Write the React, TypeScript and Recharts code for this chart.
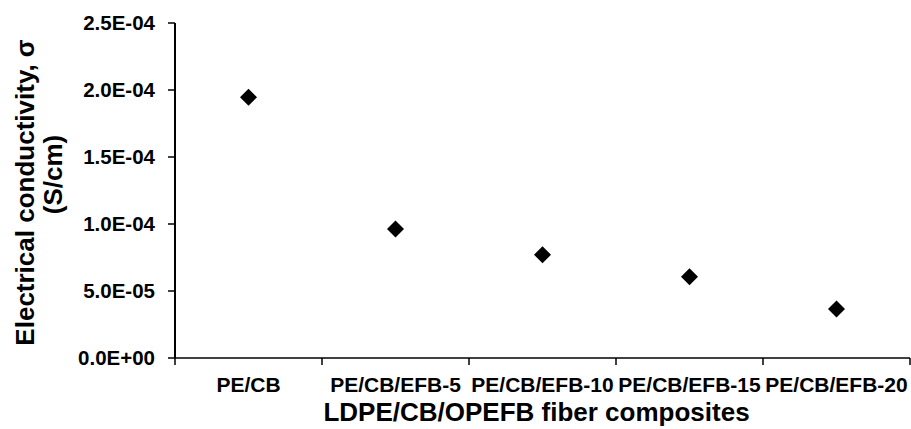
import { Scatter, ScatterChart, XAxis, YAxis } from "recharts";

const categories = ["PE/CB", "PE/CB/EFB-5", "PE/CB/EFB-10", "PE/CB/EFB-15", "PE/CB/EFB-20"];
const conductivity = [1.945e-4, 9.63e-5, 7.71e-5, 6.07e-5, 3.66e-5];
const yTicks = [0, 5e-5, 1e-4, 1.5e-4, 2e-4, 2.5e-4];
const boundaryTicks = [0, 1, 2, 3, 4, 5];
const labelTicks = [0.5, 1.5, 2.5, 3.5, 4.5];

const data = categories.map((name, i) => ({ pos: i + 0.5, name, value: conductivity[i] }));

const FONT = "'Liberation Sans', Arial, sans-serif";

function sci(v: number) {
  const [m, e] = v.toExponential(1).split("e");
  const n = Number(e);
  const sign = n < 0 ? "-" : "+";
  return `${m}E${sign}${String(Math.abs(n)).padStart(2, "0")}`;
}

function Diamond(props: any) {
  const { cx, cy } = props;
  const r = 8.5;
  return (
    <polygon
      points={`${cx},${cy - r} ${cx + r},${cy} ${cx},${cy + r} ${cx - r},${cy}`}
      fill="#000"
    />
  );
}

// the label axis needs a series of its own, but draws nothing
function Nothing() {
  return <g />;
}

function YTitle(props: any) {
  const vb = props.viewBox;
  const cy = vb.y + vb.height / 2;
  const x1 = 25;
  const x2 = 53;
  return (
    <g fontFamily={FONT} fontWeight="bold" fontSize={26} fill="#000">
      <text x={x1} y={cy + 2} transform={`rotate(-90, ${x1}, ${cy + 2})`} textAnchor="middle" dominantBaseline="central">
        Electrical conductivity, σ
      </text>
      <text x={x2} y={cy - 16} transform={`rotate(-90, ${x2}, ${cy - 16})`} textAnchor="middle" dominantBaseline="central">
        (S/cm)
      </text>
    </g>
  );
}

function XTitle(props: any) {
  const vb = props.viewBox;
  return (
    <text
      x={vb.x + vb.width / 2 - 6}
      y={vb.y + vb.height - 8}
      textAnchor="middle"
      fontFamily={FONT}
      fontWeight="bold"
      fontSize={26}
      fill="#000"
    >
      LDPE/CB/OPEFB fiber composites
    </text>
  );
}

export default function App() {
  const yTickStyle = { fontFamily: FONT, fontWeight: "bold", fontSize: 20.5, fill: "#000" };
  const xTickStyle = { fontFamily: FONT, fontWeight: "bold", fontSize: 21, fill: "#000" };
  return (
    <div style={{ position: "absolute", left: 0, top: 0, background: "#fff" }}>
      <ScatterChart width={911} height={429} margin={{ top: 23, right: 1, bottom: 0, left: 0 }}>
        <XAxis
          xAxisId="grid"
          type="number"
          dataKey="pos"
          domain={[0, 5]}
          ticks={boundaryTicks}
          tickFormatter={() => ""}
          tickSize={7}
          height={10}
          interval={0}
          axisLine={{ stroke: "#000", strokeWidth: 1.5 }}
          tickLine={{ stroke: "#000", strokeWidth: 1.5 }}
        />
        <XAxis
          xAxisId="labels"
          type="number"
          dataKey="pos"
          domain={[0, 5]}
          ticks={labelTicks}
          tickFormatter={(v: number) => categories[Math.floor(v)]}
          axisLine={false}
          tickLine={false}
          tickSize={0}
          tickMargin={9}
          height={61}
          interval={0}
          tick={xTickStyle}
          label={<XTitle />}
        />
        <YAxis
          type="number"
          dataKey="value"
          domain={[0, 2.5e-4]}
          ticks={yTicks}
          tickFormatter={sci}
          width={175}
          tickSize={7}
          tickMargin={13}
          interval={0}
          tick={yTickStyle}
          axisLine={{ stroke: "#000", strokeWidth: 2 }}
          tickLine={{ stroke: "#000", strokeWidth: 1.5 }}
          label={<YTitle />}
        />
        <Scatter xAxisId="grid" data={data} shape={<Diamond />} isAnimationActive={false} />
        <Scatter xAxisId="labels" data={data} shape={<Nothing />} isAnimationActive={false} legendType="none" />
      </ScatterChart>
    </div>
  );
}
